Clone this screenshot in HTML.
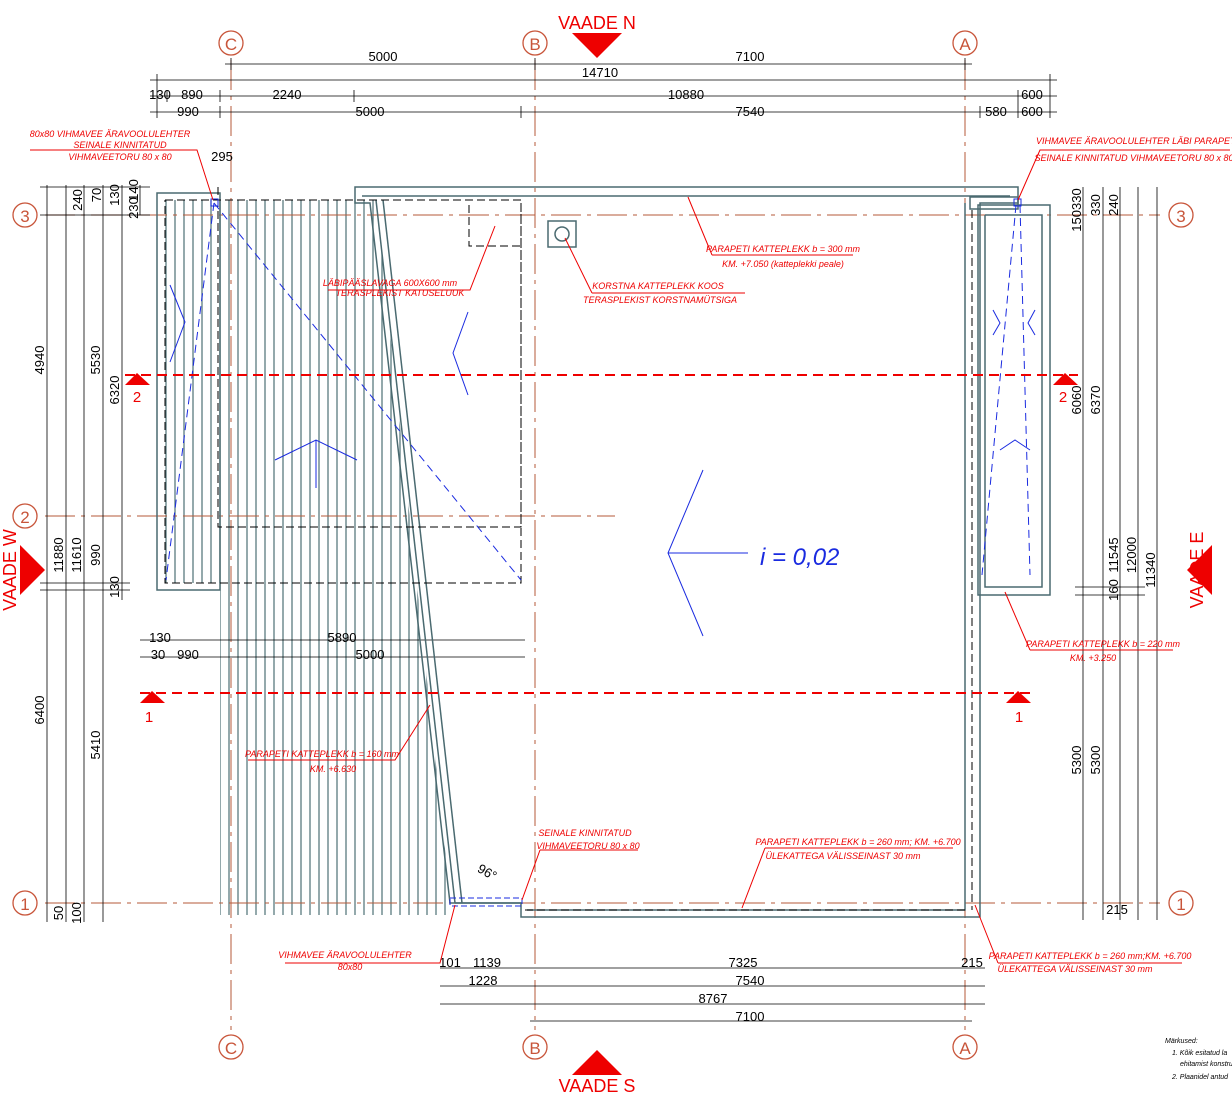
<!DOCTYPE html>
<html><head><meta charset="utf-8"><style>
html,body{margin:0;padding:0;background:#fff}
svg{display:block}
text{font-family:"Liberation Sans",sans-serif}
.d{font-size:13px;fill:#000}
.r{font-size:9px;fill:#e00;font-style:italic}
.g{font-size:20px;fill:#c8553a}
</style></head><body>
<svg width="1232" height="1103" viewBox="0 0 1232 1103" xmlns="http://www.w3.org/2000/svg">
<defs>
<pattern id="h" width="9" height="10" patternUnits="userSpaceOnUse"><line x1="4" y1="0" x2="4" y2="10" stroke="#5a7a80" stroke-width="1.3"/></pattern>
<clipPath id="c"><polygon points="165,200 376,200 452,915 220,915 220,583 165,583"/></clipPath>
</defs>
<!-- hatch -->
<rect x="150" y="190" width="320" height="730" fill="url(#h)" clip-path="url(#c)"/>
<!-- grid lines -->
<g stroke="#b55a3a" stroke-width="1" stroke-dasharray="30,6,4,6" fill="none">
<line x1="231" y1="60" x2="231" y2="1030"/><line x1="535" y1="60" x2="535" y2="1030"/><line x1="965" y1="60" x2="965" y2="1030"/>
<line x1="45" y1="215" x2="1160" y2="215"/><line x1="45" y1="516" x2="615" y2="516"/><line x1="45" y1="903" x2="1160" y2="903"/>
</g>
<!-- grid circles -->
<g fill="none" stroke="#c8553a" stroke-width="1.3">
<circle cx="231" cy="43" r="12"/><circle cx="535" cy="43" r="12"/><circle cx="965" cy="43" r="12"/>
<circle cx="231" cy="1047" r="12"/><circle cx="535" cy="1047" r="12"/><circle cx="965" cy="1047" r="12"/>
<circle cx="25" cy="215" r="12"/><circle cx="25" cy="516" r="12"/><circle cx="25" cy="903" r="12"/>
<circle cx="1181" cy="215" r="12"/><circle cx="1181" cy="903" r="12"/>
</g>
<g class="g" text-anchor="middle" font-size="17" fill="#c8553a">
<text x="231" y="50" font-size="17">C</text><text x="535" y="50" font-size="17">B</text><text x="965" y="50" font-size="17">A</text>
<text x="231" y="1054" font-size="17">C</text><text x="535" y="1054" font-size="17">B</text><text x="965" y="1054" font-size="17">A</text>
<text x="25" y="222" font-size="17">3</text><text x="25" y="523" font-size="17">2</text><text x="25" y="910" font-size="17">1</text>
<text x="1181" y="222" font-size="17">3</text><text x="1181" y="910" font-size="17">1</text>
</g>
<!-- VAADE markers -->
<g fill="#e00">
<polygon points="572,33 622,33 597,58"/><text x="597" y="29" font-size="18" text-anchor="middle" fill="#e00">VAADE N</text>
<polygon points="572,1075 622,1075 597,1050"/><text x="597" y="1092" font-size="18" text-anchor="middle" fill="#e00">VAADE S</text>
<polygon points="20,545 20,595 45,570"/><text transform="translate(16,570) rotate(-90)" font-size="18" text-anchor="middle" fill="#e00">VAADE W</text>
<polygon points="1212,545 1212,595 1187,570"/><text transform="translate(1203,570) rotate(-90)" font-size="18" text-anchor="middle" fill="#e00">VAADE E</text>
</g>
<!-- top dimensions -->
<g stroke="#000" stroke-width="0.8">
<line x1="225" y1="64" x2="972" y2="64"/><line x1="150" y1="80" x2="1057" y2="80"/><line x1="150" y1="96" x2="1057" y2="96"/><line x1="150" y1="112" x2="1057" y2="112"/>
<line x1="231" y1="58" x2="231" y2="70"/><line x1="535" y1="58" x2="535" y2="70"/><line x1="965" y1="58" x2="965" y2="70"/>
<line x1="157" y1="74" x2="157" y2="118"/><line x1="1050" y1="74" x2="1050" y2="118"/><line x1="1018" y1="90" x2="1018" y2="118"/>
<line x1="167" y1="90" x2="167" y2="102"/><line x1="220" y1="90" x2="220" y2="102"/><line x1="354" y1="90" x2="354" y2="102"/>
<line x1="220" y1="106" x2="220" y2="118"/><line x1="521" y1="106" x2="521" y2="118"/><line x1="980" y1="106" x2="980" y2="118"/>
</g>
<g class="d" text-anchor="middle">
<text x="383" y="61">5000</text><text x="750" y="61">7100</text><text x="600" y="77">14710</text>
<text x="160" y="99">130</text><text x="192" y="99">890</text><text x="287" y="99">2240</text><text x="686" y="99">10880</text><text x="1032" y="99">600</text>
<text x="188" y="116">990</text><text x="370" y="116">5000</text><text x="750" y="116">7540</text><text x="996" y="116">580</text><text x="1032" y="116">600</text>
<text x="222" y="161">295</text>
</g>
<!-- left dims -->
<g stroke="#000" stroke-width="0.8">
<line x1="47" y1="185" x2="47" y2="922"/><line x1="66" y1="185" x2="66" y2="922"/><line x1="84" y1="185" x2="84" y2="922"/><line x1="103" y1="185" x2="103" y2="922"/><line x1="122" y1="185" x2="122" y2="600"/><line x1="140" y1="185" x2="140" y2="215"/>
<line x1="40" y1="187" x2="150" y2="187"/><line x1="40" y1="215" x2="150" y2="215"/><line x1="40" y1="583" x2="130" y2="583"/><line x1="40" y1="590" x2="130" y2="590"/>
<line x1="140" y1="640" x2="525" y2="640"/><line x1="140" y1="657" x2="525" y2="657"/>
<line x1="1083" y1="187" x2="1083" y2="920"/><line x1="1103" y1="187" x2="1103" y2="920"/><line x1="1120" y1="187" x2="1120" y2="920"/><line x1="1138" y1="187" x2="1138" y2="920"/><line x1="1157" y1="187" x2="1157" y2="920"/>
<line x1="1075" y1="595" x2="1145" y2="595"/><line x1="1075" y1="587" x2="1145" y2="587"/>
<line x1="440" y1="968" x2="985" y2="968"/><line x1="440" y1="986" x2="985" y2="986"/><line x1="440" y1="1004" x2="985" y2="1004"/><line x1="530" y1="1021" x2="972" y2="1021"/>
</g>
<g class="d" text-anchor="middle">
<text transform="translate(44,360) rotate(-90)">4940</text><text transform="translate(63,555) rotate(-90)">11880</text><text transform="translate(81,555) rotate(-90)">11610</text>
<text transform="translate(100,360) rotate(-90)">5530</text><text transform="translate(119,390) rotate(-90)">6320</text>
<text transform="translate(100,555) rotate(-90)">990</text><text transform="translate(119,587) rotate(-90)">130</text>
<text transform="translate(44,710) rotate(-90)">6400</text><text transform="translate(100,745) rotate(-90)">5410</text>
<text transform="translate(82,200) rotate(-90)">240</text><text transform="translate(101,195) rotate(-90)">70</text><text transform="translate(119,195) rotate(-90)">130</text><text transform="translate(138,190) rotate(-90)">140</text><text transform="translate(138,208) rotate(-90)">230</text>
<text transform="translate(63,913) rotate(-90)">50</text><text transform="translate(81,913) rotate(-90)">100</text>
<text x="160" y="642">130</text><text x="342" y="642">5890</text><text x="158" y="659">30</text><text x="188" y="659">990</text><text x="370" y="659">5000</text>
<text transform="translate(1081,400) rotate(-90)">6060</text><text transform="translate(1100,400) rotate(-90)">6370</text>
<text transform="translate(1118,555) rotate(-90)">11545</text><text transform="translate(1136,555) rotate(-90)">12000</text><text transform="translate(1155,570) rotate(-90)">11340</text>
<text transform="translate(1081,760) rotate(-90)">5300</text><text transform="translate(1100,760) rotate(-90)">5300</text>
<text transform="translate(1118,590) rotate(-90)">160</text><text transform="translate(1081,210) rotate(-90)">150330</text><text transform="translate(1100,205) rotate(-90)">330</text><text transform="translate(1118,205) rotate(-90)">240</text>
<text x="1117" y="914">215</text>
<text x="450" y="967">101</text><text x="487" y="967">1139</text><text x="743" y="967">7325</text><text x="972" y="967">215</text>
<text x="483" y="985">1228</text><text x="750" y="985">7540</text><text x="713" y="1003">8767</text><text x="750" y="1021">7100</text>
<text x="485" y="876" transform="rotate(30,485,876)">96°</text>
</g>
<!-- building outline -->
<g fill="none" stroke="#4a6a70" stroke-width="1.5">
<polygon points="355,187 1018,187 1018,203 980,203 980,917 521,917 521,903 450,903 370,203 355,203"/>
<polyline points="362,196 1010,196"/><polyline points="965,203 965,910 527,910"/>
<polyline points="376,200 455,903"/><polyline points="383,200 462,903"/>
<rect x="157" y="193" width="63" height="397"/>
<rect x="970" y="197" width="48" height="12"/>
<polygon points="978,205 1050,205 1050,595 978,595"/><polyline points="985,215 1042,215 1042,587 985,587 985,215"/>
<rect x="548" y="221" width="28" height="26"/><circle cx="562" cy="234" r="7"/>
<line x1="455" y1="903" x2="521" y2="903"/>
</g>
<g fill="none" stroke="#000" stroke-width="1" stroke-dasharray="8,4">
<polyline points="218,187 218,527 521,527 521,203"/><polyline points="165,200 521,200 521,583 165,583 165,200"/>
<polyline points="469,205 469,246 521,246"/><polyline points="525,910 965,910"/>
<polyline points="972,210 972,910"/>
</g>
<!-- blue slope lines -->
<g fill="none" stroke="#1a2be0" stroke-width="1">
<line x1="214" y1="203" x2="166" y2="580" stroke-dasharray="8,5"/><line x1="214" y1="203" x2="521" y2="580" stroke-dasharray="8,5"/>
<line x1="1016" y1="205" x2="982" y2="575" stroke-dasharray="8,5"/><line x1="1020" y1="205" x2="1030" y2="575" stroke-dasharray="8,5"/>
<rect x="450" y="898" width="72" height="8" stroke-dasharray="6,3"/>
<rect x="211" y="199" width="7" height="7"/><rect x="1014" y="199" width="7" height="7"/>
<polyline points="170,285 185,322 170,362"/><polyline points="468,312 453,353 468,395"/>
<polyline points="275,460 316,440 357,460"/><line x1="316" y1="440" x2="316" y2="488"/>
<polyline points="703,470 668,553 703,636"/><line x1="668" y1="553" x2="748" y2="553"/>
<polyline points="993,310 1000,323 993,335"/><polyline points="1035,310 1028,323 1035,335"/>
<polyline points="1000,450 1015,440 1030,450"/>
</g>
<text x="760" y="565" font-size="24" fill="#1a2be0" font-style="italic">i = 0,02</text>
<!-- section lines -->
<g stroke="#e00" stroke-width="2" stroke-dasharray="10,6"><line x1="125" y1="375" x2="1078" y2="375"/><line x1="140" y1="693" x2="1032" y2="693"/></g>
<g fill="#e00"><polygon points="125,385 150,385 137,373"/><polygon points="1053,385 1078,385 1065,373"/><polygon points="140,703 165,703 152,691"/><polygon points="1006,703 1031,703 1018,691"/></g>
<g font-size="15" fill="#e00" text-anchor="middle"><text x="137" y="402">2</text><text x="1063" y="402">2</text><text x="149" y="722">1</text><text x="1019" y="722">1</text></g>
<!-- red annotations -->
<g stroke="#e00" stroke-width="1" fill="none">
<polyline points="30,150 197,150 213,200"/><polyline points="1230,150 1040,150 1018,200"/>
<polyline points="328,290 470,290 495,226"/><polyline points="592,293 745,293"/><line x1="592" y1="293" x2="565" y2="238"/>
<polyline points="712,255 853,255"/><line x1="712" y1="255" x2="688" y2="197"/>
<polyline points="1030,650 1173,650"/><line x1="1030" y1="650" x2="1005" y2="592"/>
<polyline points="248,760 395,760 430,705"/>
<polyline points="540,850 638,850"/><line x1="540" y1="850" x2="522" y2="900"/>
<polyline points="765,848 953,848"/><line x1="765" y1="848" x2="742" y2="908"/>
<polyline points="998,963 1182,963"/><line x1="998" y1="963" x2="975" y2="905"/>
<polyline points="285,963 440,963 455,905"/>
</g>
<g class="r" text-anchor="middle">
<text x="110" y="137">80x80 VIHMAVEE ÄRAVOOLULEHTER</text><text x="120" y="148">SEINALE KINNITATUD</text><text x="120" y="160">VIHMAVEETORU 80 x 80</text>
<text x="1137" y="144">VIHMAVEE ÄRAVOOLULEHTER LÄBI PARAPETI</text><text x="1134" y="161">SEINALE KINNITATUD VIHMAVEETORU 80 x 80</text>
<text x="390" y="286">LÄBIPÄÄSLAVAGA 600X600 mm</text><text x="400" y="296">TERASPLEKIST KATUSELUUK</text>
<text x="658" y="289">KORSTNA KATTEPLEKK KOOS</text><text x="660" y="303">TERASPLEKIST KORSTNAMÜTSIGA</text>
<text x="783" y="252">PARAPETI KATTEPLEKK b = 300 mm</text><text x="783" y="267">KM. +7.050 (katteplekki peale)</text>
<text x="1103" y="647">PARAPETI KATTEPLEKK b = 220 mm</text><text x="1093" y="661">KM. +3.250</text>
<text x="322" y="757">PARAPETI KATTEPLEKK b = 160 mm</text><text x="333" y="772">KM. +6.630</text>
<text x="585" y="836">SEINALE KINNITATUD</text><text x="588" y="849">VIHMAVEETORU 80 x 80</text>
<text x="858" y="845">PARAPETI KATTEPLEKK b = 260 mm; KM. +6.700</text><text x="843" y="859">ÜLEKATTEGA VÄLISSEINAST 30 mm</text>
<text x="1090" y="959">PARAPETI KATTEPLEKK b = 260 mm;KM. +6.700</text><text x="1075" y="972">ÜLEKATTEGA VÄLISSEINAST 30 mm</text>
<text x="345" y="958">VIHMAVEE ÄRAVOOLULEHTER</text><text x="350" y="970">80x80</text>
</g>
<g font-size="7" fill="#000" font-style="italic"><text x="1165" y="1043">Märkused:</text><text x="1172" y="1055">1. Kõik esitatud la</text><text x="1180" y="1066">ehitamist konstru</text><text x="1172" y="1079">2. Plaanidel antud</text></g>
</svg>
</body></html>
